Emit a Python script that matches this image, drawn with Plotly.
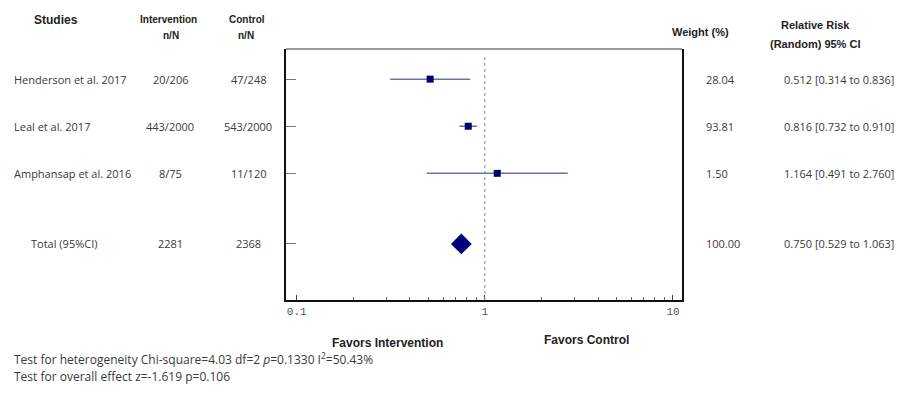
import plotly.graph_objects as go

# ---- data ----
studies = ["Henderson et al. 2017", "Leal et al. 2017", "Amphansap et al. 2016", "Total (95%CI)"]
intervention_nN = ["20/206", "443/2000", "8/75", "2281"]
control_nN = ["47/248", "543/2000", "11/120", "2368"]
weights = ["28.04", "93.81", "1.50", "100.00"]
rr = [0.512, 0.816, 1.164, 0.750]
ci_lo = [0.314, 0.732, 0.491, 0.529]
ci_hi = [0.836, 0.910, 2.760, 1.063]
row_pos = [4, 3, 2, 0.5]
x_tick_vals = [0.1, 1, 10]
x_tick_text = ["0.1", "1", "10"]
minor_vals = [m * d for d in (0.1, 1) for m in range(2, 10)]

W, H = 898, 399
L, R, T, B = 286, 682, 49, 300
pw, ph = R - L, B - T

def px(x):
    return (x - L) / pw

def py(y):
    return (B - y) / ph

TXT = "#3a3a3a"
ROWFONT = "Open Sans"
HDRFONT = "Liberation Sans"

fig = go.Figure()

# CI lines for studies
lx, ly = [], []
for i in range(3):
    lx += [ci_lo[i], ci_hi[i], None]
    ly += [row_pos[i], row_pos[i], None]
fig.add_trace(go.Scatter(x=lx, y=ly, mode="lines",
                         line=dict(color="#6e72a8", width=1.5),
                         hoverinfo="skip", showlegend=False))
# study point estimates
fig.add_trace(go.Scatter(x=rr[:3], y=row_pos[:3], mode="markers",
                         marker=dict(symbol="square", size=7, color="#00006e",
                                     line=dict(width=0)),
                         showlegend=False))
# pooled diamond
fig.add_trace(go.Scatter(x=[rr[3]], y=[row_pos[3]], mode="markers",
                         marker=dict(symbol="diamond", size=16, color="#00007a",
                                     line=dict(width=0)),
                         showlegend=False))

# reference line at 1
fig.add_shape(type="line", x0=1, x1=1, xref="x", y0=0, y1=0.975, yref="paper",
              line=dict(color="#8a8a8a", width=1, dash="dot"))
# thin top border
fig.add_shape(type="line", x0=0, x1=1, xref="paper", y0=1, y1=1, yref="paper",
              line=dict(color="#777777", width=1.5))

ann = []
def add(text, x, y, size=11, bold=False, xanchor="center", font=ROWFONT, yref="paper", color=TXT):
    if bold:
        text = "<b>" + text + "</b>"
    ann.append(dict(text=text, x=x, y=y, xref="paper", yref=yref, showarrow=False,
                    xanchor=xanchor, yanchor="middle",
                    font=dict(family=font, size=size, color=color)))

# headers
add("Studies", px(32), py(20), size=12, bold=True, xanchor="left", font=HDRFONT, color="#222")
add("Intervention", px(168), py(19), size=10, bold=True, font=HDRFONT, color="#222")
add("n/N", px(171), py(35), size=10, bold=True, font=HDRFONT, color="#222")
add("Control", px(247), py(19), size=10, bold=True, font=HDRFONT, color="#222")
add("n/N", px(246), py(35), size=10, bold=True, font=HDRFONT, color="#222")
add("Weight (%)", px(700), py(32), size=11, bold=True, font=HDRFONT, color="#222")
add("Relative Risk", px(815), py(25), size=11, bold=True, font=HDRFONT, color="#222")
add("(Random) 95% CI", px(815), py(44), size=11, bold=True, font=HDRFONT, color="#222")

# rows
for i in range(4):
    y = row_pos[i]
    if i < 3:
        add(studies[i], px(12), y, xanchor="left", yref="y")
    else:
        add(studies[i], px(64), y, yref="y")
    add(intervention_nN[i], px(170), y, yref="y")
    add(control_nN[i], px(248), y, yref="y")
    add(weights[i], px(704), y, xanchor="left", yref="y")
    add(f"{rr[i]:.3f} [{ci_lo[i]:.3f} to {ci_hi[i]:.3f}]", px(782), y, xanchor="left", yref="y")

# favors labels
add("Favors Intervention", px(387), py(343), size=12, bold=True, font=HDRFONT, color="#222")
add("Favors Control", px(586), py(340), size=12, bold=True, font=HDRFONT, color="#222")

# test texts
add("Test for heterogeneity Chi-square=4.03 df=2 <i>p</i>=0.1330 I<sup>2</sup>=50.43%",
    px(12), py(359), size=12, xanchor="left")
add("Test for overall effect z=-1.619 p=0.106", px(12), py(376), size=12, xanchor="left")

fig.update_layout(
    width=W, height=H,
    margin=dict(l=L, r=W - R, t=T, b=H - B),
    paper_bgcolor="white", plot_bgcolor="white",
    annotations=ann,
    showlegend=False,
    xaxis=dict(type="log", range=[-1.057, 1.048],
               tickvals=x_tick_vals, ticktext=x_tick_text,
               ticks="inside", ticklen=5, tickwidth=1, tickcolor="#444",
               minor=dict(tickvals=minor_vals, ticks="inside", ticklen=3,
                          tickwidth=1, tickcolor="#666", showgrid=False),
               showgrid=False, zeroline=False,
               showline=True, linecolor="#111", linewidth=2, mirror=False,
               tickfont=dict(family="Liberation Mono", size=11, color="#555")),
    yaxis=dict(range=[-0.69, 4.64], tickvals=row_pos, showticklabels=False,
               ticks="inside", ticklen=10, tickwidth=1, tickcolor="#777",
               showgrid=False, zeroline=False,
               showline=True, linecolor="#111", linewidth=2, mirror=True),
)

fig.write_html("out.html", config={"displayModeBar": False},
               post_script="document.body.style.margin='0px';")
